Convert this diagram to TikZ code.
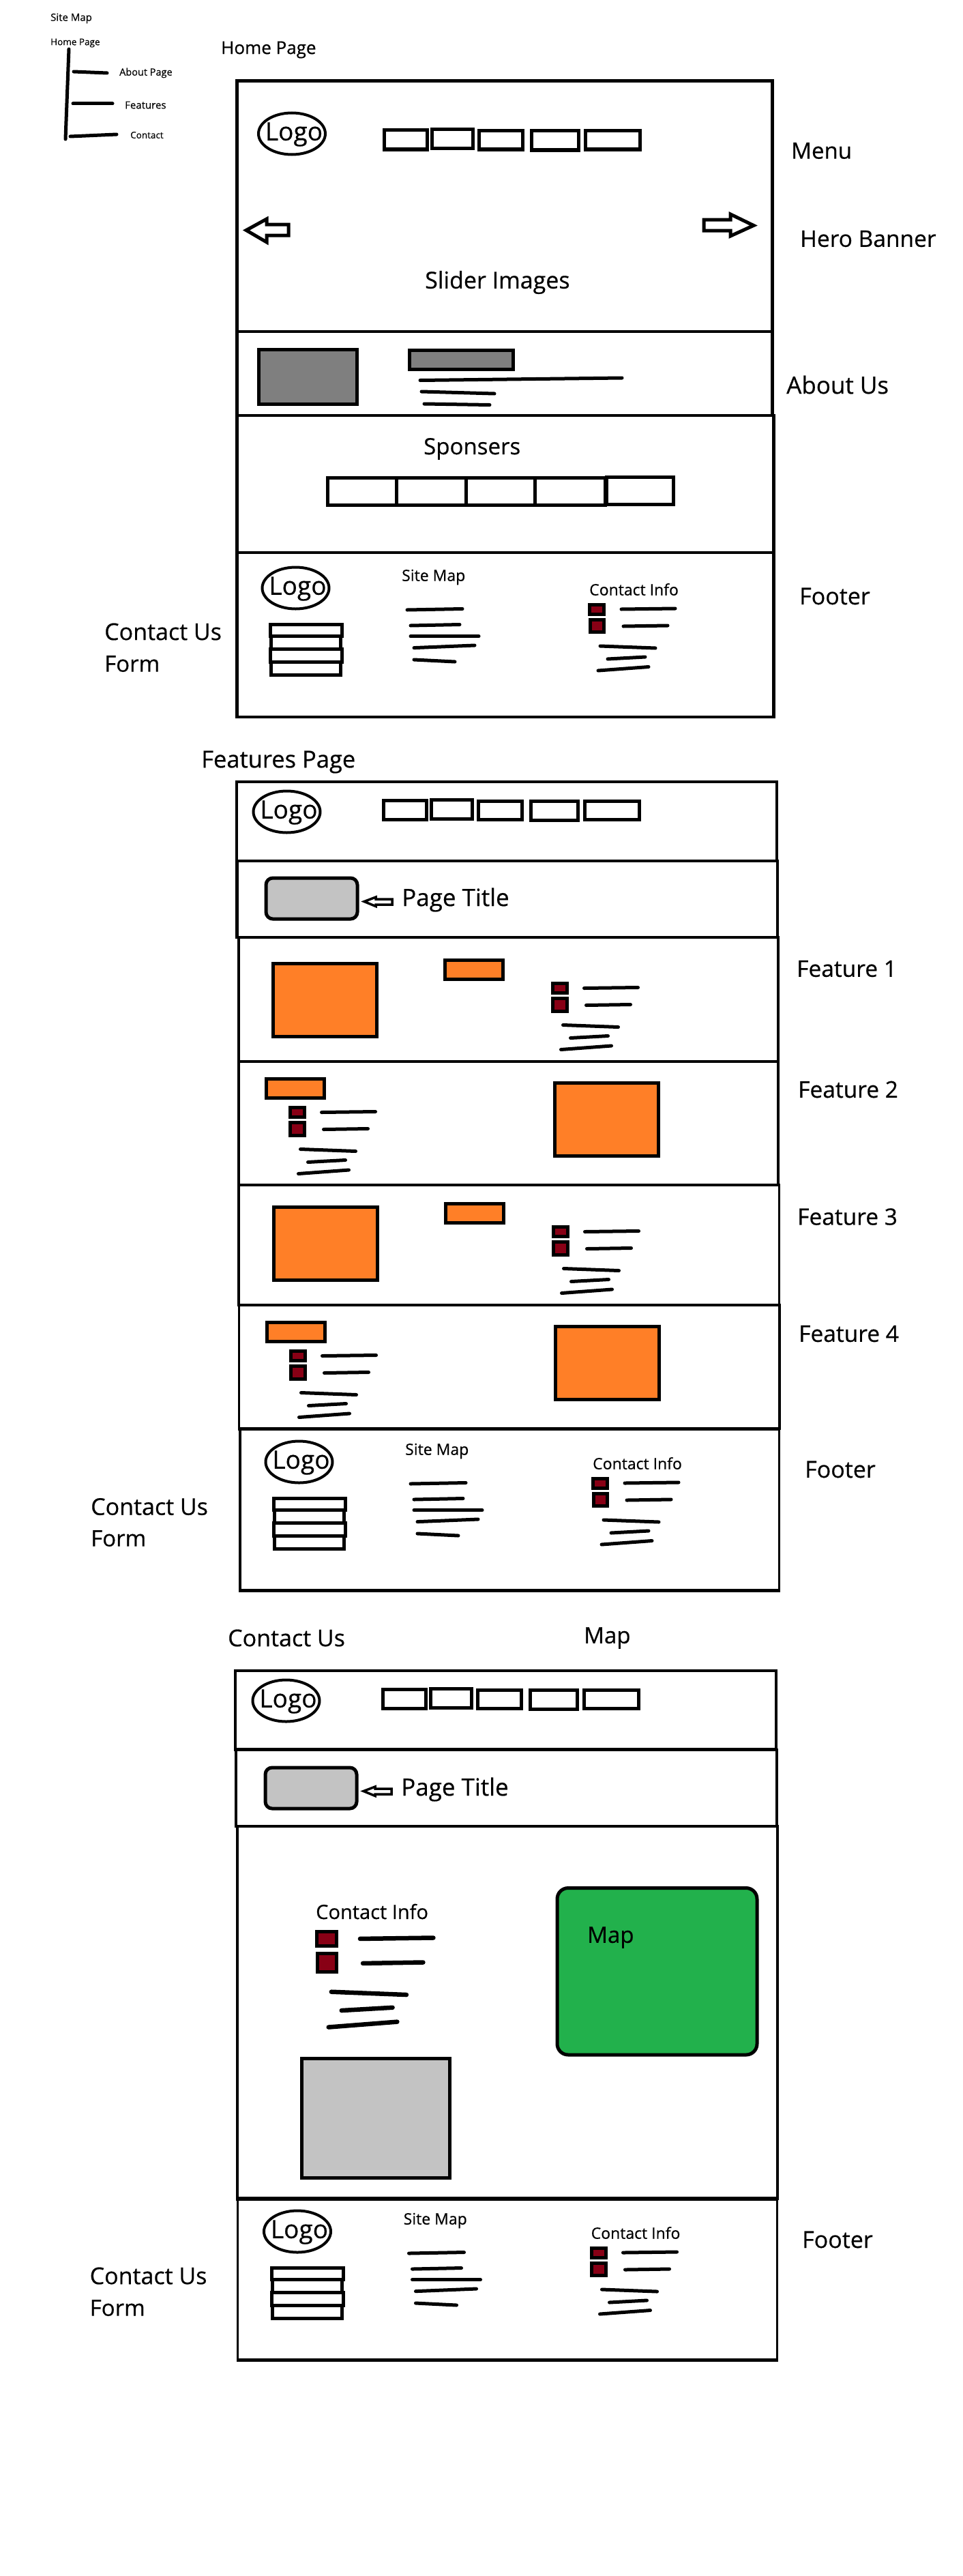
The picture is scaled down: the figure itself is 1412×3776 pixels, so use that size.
\documentclass[tikz,border=0pt]{standalone}
\usepackage{fontspec}
\setmainfont[FakeBold=0.5]{Open Sans}
\usepackage{xcolor}
\definecolor{pic}{HTML}{FF7F27}
\definecolor{darkgr}{HTML}{7F7F7F}
\definecolor{lightgr}{HTML}{C3C3C3}
\definecolor{icn}{HTML}{880015}
\definecolor{mapgr}{HTML}{22B14C}
\tikzset{
  fs/.style={font=\fontsize{#1}{#1}\selectfont},
  lbl/.style={anchor=west, inner sep=0pt, fs=33},
  frm/.style={draw, line width=4.5pt},
  frmthin/.style={draw, line width=3.5pt},
  box/.style={draw, line width=5pt},
  scrib/.style={line width=5pt, line cap=round},
  logoline/.style={draw, line width=4pt},
  logotxt/.style={inner sep=0pt, fs=37}}
% oval with its text
\newcommand{\logomark}[3]{
  \draw[logoline] (#2,#3) ellipse [x radius=49, y radius=30.5];
  \node[logotxt] (#1logo) at ([xshift=3pt,yshift=-1pt]#2,#3) {Logo};}
% nav buttons
\newcommand{\menurow}[2]{
  \begin{scope}[shift={(#1,#2)}]
  \draw[box] (563,190.5) rectangle (626,219);
  \draw[box] (633,190) rectangle (693,218);
  \draw[box] (702,192) rectangle (766,219);
  \draw[box] (779,192) rectangle (848,220);
  \draw[box] (858,192) rectangle (938,219);
  \end{scope}}
% two icons and five strokes
\newcommand{\infoblock}[1]{
  \begin{scope}[#1]
  \draw[box, fill=icn] (864.5,886) rectangle (885.5,900);
  \draw[box, fill=icn] (865,908) rectangle (885.5,926.5);
  \draw[scrib] (911,893) -- (950,892.5) -- (990,892);
  \draw[scrib] (914,918) -- (979,917);
  \draw[scrib] (880,947) -- (961,950);
  \draw[scrib] (891,966) -- (946,963);
  \draw[scrib] (877,983) -- (951,977.5);
  \end{scope}}
\newcommand{\footerblock}[3]{
  \begin{scope}[shift={(#2,#3)}]
  \logomark{#1}{433.5}{862}
  \draw[box] (396,915) rectangle (501,932);
  \draw[box] (397,932) rectangle (499,951);
  \draw[box] (396,951) rectangle (501,970.5);
  \draw[box] (397,970.5) rectangle (499,989);
  \node[lbl, fs=23] (#1map) at (589,846) {Site Map};
  \node[lbl, fs=23] (#1info) at (864,864) {Contact Info};
  \draw[scrib] (597,894) -- (678,892.5);
  \draw[scrib] (602,917) -- (674,915.5);
  \draw[scrib] (602,932.7) -- (702,932.7);
  \draw[scrib] (607,949.6) -- (696,946);
  \draw[scrib] (607,967) -- (667,970);
  \infoblock{}
  \end{scope}}
% rounded title box, little arrow, text
\newcommand{\titlebar}[3]{
  \begin{scope}[shift={(#2,#3)}]
  \draw[box, fill=lightgr, rounded corners=10pt] (390,1287) rectangle (524,1347);
  \draw[draw, line width=3.5pt, fill=white, line join=miter] (534,1321.5) -- (551,1315) -- (551,1318) -- (575,1318) -- (575,1326) -- (551,1326) -- (551,1328.5) -- cycle;
  \node[lbl, fs=35] (#1title) at (589,1319) {Page Title};
  \end{scope}}
\newcommand{\featleft}[2]{
  \begin{scope}[shift={(#1,#2)}]
  \draw[box, fill=pic] (400.5,1412.5) rectangle (552.5,1519.5);
  \draw[box, fill=pic] (652.5,1407.5) rectangle (737.5,1435.5);
  \infoblock{shift={(-54.5,555.5)}}
  \end{scope}}
\newcommand{\featright}[2]{
  \begin{scope}[shift={(#1,#2)}]
  \draw[box, fill=pic] (813.5,1587.5) rectangle (965.5,1694.5);
  \draw[box, fill=pic] (390.5,1581.5) rectangle (475.5,1609.5);
  \infoblock{shift={(-439.5,737.5)}}
  \end{scope}}

\begin{document}
\begin{tikzpicture}[x=1pt, y=-1pt]
\useasboundingbox (0,0) rectangle (1412,3776);
% site map tree
\node[lbl, fs=15] (treetop) at (74,27) {Site Map};
\node[lbl, fs=13.5] (treehome) at (74,63) {Home Page};
\node[lbl, fs=14.5] (treeabout) at (175,107) {About Page};
\node[lbl, fs=15] (treefeat) at (183,154) {Features};
\node[lbl, fs=13.5] (treecontact) at (191,198) {Contact};
\draw[scrib] (101,72) -- (96,204);
\draw[scrib] (108,105) -- (157,107);
\draw[scrib] (107,152) -- (165,152);
\draw[scrib] (103,200) -- (171,197);
% home page
\node[lbl, fs=26] (homehd) at (324,73) {Home Page};
\draw[frm] (347.5,118.5) rectangle (1132.5,486);
\draw[frm] (347.5,486) rectangle (1132.5,609);
\draw[frm] (347.5,609) rectangle (1134.5,810);
\draw[frm] (347.5,810) rectangle (1134.5,1051);
\logomark{home}{428}{196}
\menurow{0}{0}
\draw[box, fill=white] (423,329) -- (391,329) -- (391,321) -- (361,337.5) -- (391,355) -- (391,345) -- (423,345) -- cycle;
\draw[box, fill=white] (1032,322) -- (1071,322) -- (1071,314) -- (1105,330.5) -- (1071,346) -- (1071,338) -- (1032,338) -- cycle;
\node[lbl, fs=33] (homemenu) at (1160,221) {Menu};
\node[lbl, fs=33.5] (homehero) at (1173,350) {Hero Banner};
\node[lbl, fs=34] (homeslider) at (623,414) {Slider Images};
\node[lbl, fs=35] (homeabout) at (1153,564) {About Us};
\draw[box, fill=darkgr] (379.5,512.5) rectangle (523.5,592.5);
\draw[box, fill=darkgr] (600.5,513.5) rectangle (752.5,541.5);
\draw[scrib] (616,557.5) -- (912,554);
\draw[scrib] (618,574) -- (725,577);
\draw[scrib] (622,592) -- (718,593.5);
\node[lbl, fs=33] (homespons) at (621,658) {Sponsers};
\draw[box] (480,700) rectangle (581,740);
\draw[box] (581,700) rectangle (683,740);
\draw[box] (683,700) rectangle (784,740);
\draw[box] (784,700) rectangle (887,740);
\draw[box] (889,699) rectangle (987,739);
\footerblock{home}{0}{0}
\node[lbl, fs=34] (homeform) at (153,926) {Contact Us};
\node[lbl, fs=33] (homeform2) at (153,973) {Form};
\node[lbl, fs=34] (homefoot) at (1172,874) {Footer};
% features page
\node[lbl, fs=34.5] (feathd) at (295,1117) {Features Page};
\draw[frm] (347,1146) rectangle (1139,1262);
\draw[frm] (347.5,1262) rectangle (1140,1374);
\draw[frmthin] (350,1374) rectangle (1141,1556);
\draw[frmthin] (350,1556) rectangle (1141,1737);
\draw[frmthin] (350,1737) rectangle (1142.5,1913);
\draw[frmthin] (350.5,1913) rectangle (1143,2094.5);
\draw[frmthin] (352,2094.5) rectangle (1142.5,2331.5);
\draw[line width=5pt] (349,2094.5) -- (1144,2094.5);
\draw[line width=5pt] (350,2331.5) -- (1144,2331.5);
\logomark{feat}{420.5}{1190}
\menurow{-0.5}{982.5}
\titlebar{feat}{0}{0}
\featleft{0}{0}
\featright{0}{0}
\featleft{1}{357}
\featright{1}{357}
\footerblock{feat}{5}{1281}
\node[lbl, fs=33.5] (feat1) at (1168,1420) {Feature 1};
\node[lbl, fs=33.5] (feat2) at (1170,1597) {Feature 2};
\node[lbl, fs=33.5] (feat3) at (1169,1783.5) {Feature 3};
\node[lbl, fs=33.5] (feat4) at (1171,1955) {Feature 4};
\node[lbl, fs=34] (featform) at (133,2208.5) {Contact Us};
\node[lbl, fs=33] (featform2) at (133,2255) {Form};
\node[lbl, fs=34] (featfoot) at (1180,2154) {Footer};
% contact page
\node[lbl, fs=34] (conthd) at (334,2401) {Contact Us};
\node[lbl, fs=33] (conthdmap) at (856,2401) {Map};
\draw[frm] (345,2449) rectangle (1138,2564.5);
\draw[frmthin] (346,2564.5) rectangle (1139,2677);
\draw[frmthin] (348,2677) rectangle (1140,3223);
\draw[frmthin] (348.5,3223) rectangle (1139.5,3459);
\draw[line width=5.5pt] (346,3223) -- (1140,3223);
\draw[line width=5pt] (347,3459) -- (1141,3459);
\logomark{cont}{419.5}{2493}
\menurow{-2}{2285.5}
\titlebar{cont}{-1}{1304}
\draw[box, fill=mapgr, rounded corners=16pt] (817,2767.5) rectangle (1110,3012);
\node[lbl, fs=33] (contmap) at (861,2840) {Map};
\node[lbl, fs=29] (continfo) at (463,2802) {Contact Info};
\infoblock{shift={(-711,1556)}, xscale=1.36, yscale=1.44, scrib/.append style={line width=6.5pt}}
\draw[box, fill=lightgr] (442,3017.5) rectangle (659,3192);
\footerblock{cont}{2.5}{2409}
\node[lbl, fs=34] (contform) at (131.5,3336) {Contact Us};
\node[lbl, fs=33] (contform2) at (131.5,3383) {Form};
\node[lbl, fs=34] (contfoot) at (1176,3283) {Footer};
\end{tikzpicture}
\end{document}
